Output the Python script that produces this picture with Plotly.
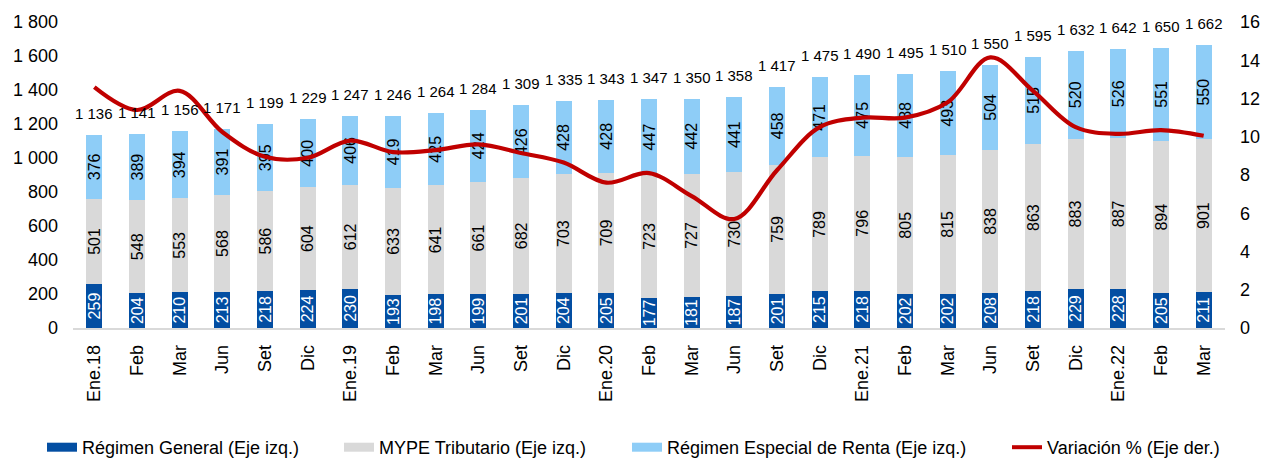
import plotly.graph_objects as go

categories = ["Ene.18", "Feb", "Mar", "Jun", "Set", "Dic",
              "Ene.19", "Feb", "Mar", "Jun", "Set", "Dic",
              "Ene.20", "Feb", "Mar", "Jun", "Set", "Dic",
              "Ene.21", "Feb", "Mar", "Jun", "Set", "Dic",
              "Ene.22", "Feb", "Mar"]
regimen_general = [259, 204, 210, 213, 218, 224, 230, 193, 198, 199, 201, 204, 205, 177,
                   181, 187, 201, 215, 218, 202, 202, 208, 218, 229, 228, 205, 211]
mype_tributario = [501, 548, 553, 568, 586, 604, 612, 633, 641, 661, 682, 703, 709, 723,
                   727, 730, 759, 789, 796, 805, 815, 838, 863, 883, 887, 894, 901]
regimen_especial = [376, 389, 394, 391, 395, 400, 406, 419, 425, 424, 426, 428, 428, 447,
                    442, 441, 458, 471, 475, 488, 493, 504, 515, 520, 526, 551, 550]
totales = [1136, 1141, 1156, 1171, 1199, 1229, 1247, 1246, 1264, 1284, 1309, 1335, 1343, 1347,
           1350, 1358, 1417, 1475, 1490, 1495, 1510, 1550, 1595, 1632, 1642, 1650, 1662]
variacion = [12.6, 11.4, 12.4, 10.25, 8.95, 8.9, 9.8, 9.2, 9.3, 9.6, 9.15, 8.65, 7.6, 8.1,
             6.9, 5.7, 8.25, 10.5, 11.0, 11.0, 11.8, 14.15, 12.4, 10.5, 10.15, 10.35, 10.05]

names = ["Régimen General (Eje izq.)", "MYPE Tributario (Eje izq.)",
         "Régimen Especial de Renta (Eje izq.)", "Variación % (Eje der.)"]
c_gen, c_mype, c_rer, c_var = "#034EA2", "#D9D9D9", "#8ECDF7", "#C00000"

FONT = "Liberation Sans, Arial, sans-serif"
xpos = list(range(len(categories)))

fig = go.Figure()
for vals, col, tcol in [(regimen_general, c_gen, "white"),
                        (mype_tributario, c_mype, "black"),
                        (regimen_especial, c_rer, "black")]:
    fig.add_trace(go.Bar(
        x=xpos, y=vals, marker=dict(color=col, line=dict(width=0)),
        text=vals, textposition="inside", textangle=-90, insidetextanchor="middle",
        constraintext="none", cliponaxis=False,
        textfont=dict(size=16, color=tcol, family=FONT),
        showlegend=False, hoverinfo="skip"))

fig.add_trace(go.Scatter(
    x=xpos, y=variacion, yaxis="y2", mode="lines",
    line=dict(color=c_var, width=4.2, shape="spline", smoothing=1),
    showlegend=False, hoverinfo="skip"))

for i, v in enumerate(totales):
    fig.add_annotation(x=xpos[i], y=v, text=f"{v:,}".replace(",", " "),
                       showarrow=False, yanchor="bottom", yshift=11,
                       font=dict(size=15, color="black", family=FONT))

# legend entries (one legend per entry to mimic the spacing of the original)
legend_ids = ["legend", "legend2", "legend3", "legend4"]
text_starts = [82, 379, 667, 1047]
legend_layout = {}
for k, (nm, col, lid, ts) in enumerate(zip(names, [c_gen, c_mype, c_rer, c_var],
                                           legend_ids, text_starts)):
    fig.add_trace(go.Scatter(
        x=[None], y=[None], mode="lines", name=nm,
        line=dict(color=col, width=9 if k < 3 else 4),
        legend=lid, showlegend=True, hoverinfo="skip"))
    legend_layout[lid] = dict(
        x=(ts - 40) / 1272, xref="container", xanchor="left",
        y=1 - 447.5 / 461, yref="container", yanchor="middle",
        orientation="h", bgcolor="rgba(0,0,0,0)", borderwidth=0,
        font=dict(size=18, color="black", family=FONT), itemwidth=30)

fig.update_layout(
    width=1272, height=461,
    margin=dict(l=73, r=47, t=19, b=133, pad=0),
    paper_bgcolor="white", plot_bgcolor="white",
    barmode="stack", bargap=0.625,
    separators=", ",
    font=dict(family=FONT, size=18, color="black"),
    xaxis=dict(tickmode="array", tickvals=xpos, ticktext=categories,
               tickangle=-90, range=[-0.5, len(categories) - 0.5],
               showgrid=False, zeroline=False, showline=True,
               linecolor="#D9D9D9", linewidth=1.5, ticks="",
               ticklabelstandoff=8,
               tickfont=dict(size=18, color="black", family=FONT)),
    yaxis=dict(range=[0, 1800], dtick=200, tickformat=",d",
               showgrid=False, zeroline=False, showline=False, ticks="",
               ticklabelstandoff=14,
               tickfont=dict(size=18, color="black", family=FONT)),
    yaxis2=dict(range=[0, 16], dtick=2, overlaying="y", side="right",
                showgrid=False, zeroline=False, showline=False, ticks="",
                ticklabelstandoff=14,
                tickfont=dict(size=18, color="black", family=FONT)),
    **legend_layout,
)

fig.write_html("out.html", config={"displayModeBar": False},
               post_script="document.body.style.margin='0';")
